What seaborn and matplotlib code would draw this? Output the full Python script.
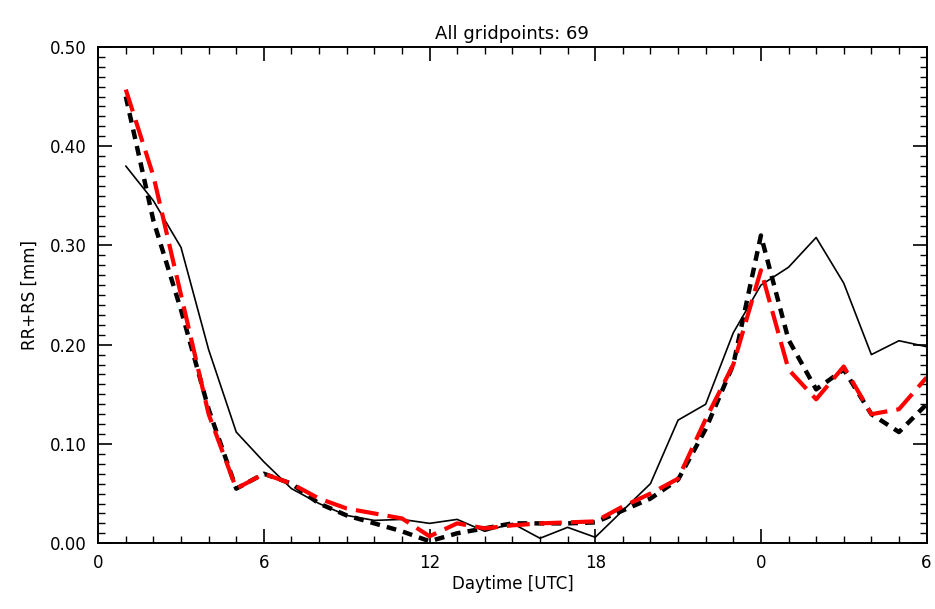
import numpy as np
import pandas as pd
import matplotlib
matplotlib.use("Agg")
import matplotlib.pyplot as plt
import seaborn as sns
from matplotlib.ticker import MultipleLocator

# hours after 00 UTC of the first day
hours = list(range(1, 31))

# thin black solid line
solid_black = [0.380, 0.345, 0.298, 0.195, 0.112, 0.082, 0.055, 0.040, 0.028, 0.023,
               0.024, 0.020, 0.024, 0.012, 0.020, 0.005, 0.016, 0.006, 0.033, 0.060,
               0.124, 0.140, 0.212, 0.260, 0.278, 0.308, 0.262, 0.190, 0.204, 0.198]

# thick black short-dashed line
dashed_black = [0.450, 0.325, 0.235, 0.135, 0.055, 0.070, 0.060, 0.040, 0.028, 0.020,
                0.012, 0.002, 0.010, 0.015, 0.020, 0.020, 0.020, 0.021, 0.033, 0.045,
                0.064, 0.115, 0.180, 0.310, 0.205, 0.155, 0.175, 0.130, 0.112, 0.140]

# thick red long-dashed line
dashed_red = [0.457, 0.370, 0.250, 0.130, 0.055, 0.070, 0.060, 0.045, 0.035, 0.030,
              0.025, 0.007, 0.020, 0.015, 0.018, 0.020, 0.021, 0.022, 0.037, 0.050,
              0.065, 0.125, 0.180, 0.275, 0.175, 0.145, 0.178, 0.130, 0.135, 0.167]

x_ticks = [0, 6, 12, 18, 24, 30]
x_ticklabels = ["0", "6", "12", "18", "0", "6"]
y_ticks = [0.0, 0.1, 0.2, 0.3, 0.4, 0.5]

df = pd.DataFrame({"hour": hours, "solid": solid_black,
                   "dblack": dashed_black, "dred": dashed_red})

sns.set_style("ticks")
plt.rcParams['font.family'] = ['DejaVu Sans']
plt.rcParams['text.color'] = 'black'
plt.rcParams['axes.labelcolor'] = 'black'

fig = plt.figure(figsize=(9.35, 6.09), dpi=100)
ax = fig.add_axes([0.105, 0.108, 0.886, 0.815])

sns.lineplot(data=df, x="hour", y="solid", ax=ax, color="black", linewidth=1.2)
sns.lineplot(data=df, x="hour", y="dblack", ax=ax, color="black", linewidth=3.2,
             dashes=False).lines[-1].set_dashes((2.2, 1.6))
sns.lineplot(data=df, x="hour", y="dred", ax=ax, color="#ff0000", linewidth=3.0,
             dashes=False).lines[-1].set_dashes((5.5, 2.2))

ax.set_xlim(0, 30)
ax.set_ylim(0, 0.5)
ax.set_xticks(x_ticks)
ax.set_xticklabels(x_ticklabels)
ax.set_yticks(y_ticks)
ax.set_yticklabels([f"{v:.2f}" for v in y_ticks])
ax.xaxis.set_minor_locator(MultipleLocator(1))
ax.yaxis.set_minor_locator(MultipleLocator(0.01))

ax.tick_params(which="both", direction="in", top=True, right=True, colors="black",
               labelsize=12)
ax.tick_params(which="major", length=10, width=1.2, pad=8)
ax.tick_params(which="minor", length=5, width=1.0)
for s in ax.spines.values():
    s.set_linewidth(1.4)
    s.set_color("black")

ax.set_title("All gridpoints: 69", fontsize=13, pad=6, color="black")
ax.set_xlabel("Daytime [UTC]", fontsize=12, labelpad=2)
ax.set_ylabel("RR+RS [mm]", fontsize=12, labelpad=8)

fig.savefig("out.png", dpi=100)
